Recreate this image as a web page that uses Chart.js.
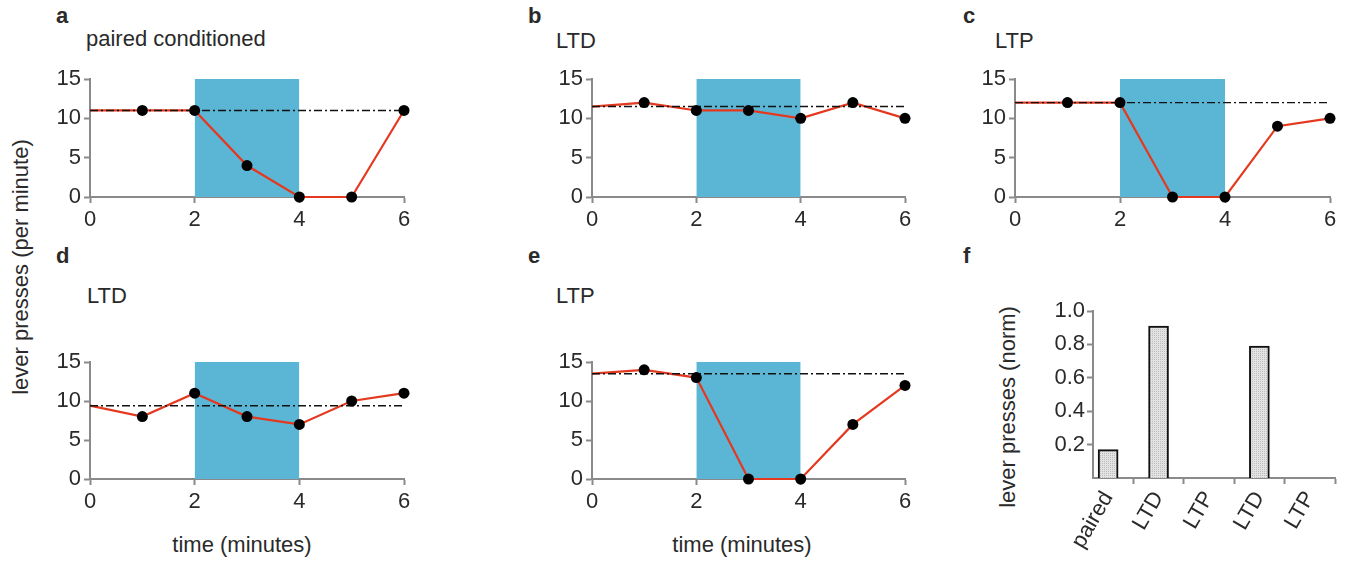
<!DOCTYPE html>
<html>
<head>
<meta charset="utf-8">
<script src="https://cdn.jsdelivr.net/npm/chart.js@4.4.1/dist/chart.umd.min.js"></script>
<style>
    body { margin: 0; background: #fff; width: 1346px; height: 562px; position: relative; overflow: hidden;
           font-family: 'Liberation Sans', Arial, Helvetica, sans-serif; color: #2a2a2a; }
    canvas { position: absolute; }
    .txt { position: absolute; white-space: nowrap; font-size: 22px; line-height: 22px; }
    .letter { font-weight: bold; }
    .rot { transform: translate(-50%, -50%) rotate(-90deg); }
    .ctr { transform: translate(-50%, -50%); }
</style>
</head>
<body>
<div class="txt letter" style="left:56px;top:5px">a</div>
<div class="txt letter" style="left:528px;top:5px">b</div>
<div class="txt letter" style="left:963px;top:5px">c</div>
<div class="txt letter" style="left:56px;top:245px">d</div>
<div class="txt letter" style="left:528px;top:245px">e</div>
<div class="txt letter" style="left:963px;top:245px">f</div>

<div class="txt" style="left:86px;top:28px">paired conditioned</div>
<div class="txt" style="left:556px;top:30px">LTD</div>
<div class="txt" style="left:995px;top:30px">LTP</div>
<div class="txt" style="left:87px;top:285px">LTD</div>
<div class="txt" style="left:556px;top:285px">LTP</div>

<div class="txt rot" style="left:21px;top:267px">lever presses (per minute)</div>
<div class="txt ctr" style="left:242px;top:545px">time (minutes)</div>
<div class="txt ctr" style="left:742px;top:545px">time (minutes)</div>
<div class="txt rot" style="left:1008px;top:407px">lever presses (norm)</div>

<canvas id="panelA"></canvas>
<canvas id="panelB"></canvas>
<canvas id="panelC"></canvas>
<canvas id="panelD"></canvas>
<canvas id="panelE"></canvas>
<canvas id="panelF"></canvas>

<script>
// time axis (minutes) shared by panels a-e
const minutes = [0, 1, 2, 3, 4, 5, 6];
const timeTicks = [0, 2, 4, 6];
const pressTicks = [0, 5, 10, 15];
const stimWindow = [2, 4];
const stimTop = 15;

// lever presses per minute
const pairedPresses = [11, 11, 11, 4, 0, 0, 11];
const ltdPressesB = [11.5, 12, 11, 11, 10, 12, 10];
const ltpPressesC = [12, 12, 12, 0, 0, 9, 10];
const ltdPressesD = [9.4, 8, 11, 8, 7, 10, 11];
const ltpPressesE = [13.5, 14, 13, 0, 0, 7, 12];

// pre-stimulation baselines (dash-dot lines)
const baselineA = 11;
const baselineB = 11.5;
const baselineC = 12;
const baselineD = 9.4;
const baselineE = 13.5;

// panel f
const barCategories = ['paired', 'LTD', 'LTP', 'LTD', 'LTP'];
const barValues = [0.17, 0.91, 0, 0.79, 0];
const normTicks = [0.2, 0.4, 0.6, 0.8, 1.0];

const axisGray = '#8a8a8a';
const tickFont = { family: "'Liberation Sans', Arial, sans-serif", size: 22 };

function placeCanvas(canvas, left, top, width, height) {
    canvas.width = width;
    canvas.height = height;
    canvas.style.left = left + 'px';
    canvas.style.top = top + 'px';
    canvas.style.width = width + 'px';
    canvas.style.height = height + 'px';
}

function linePanel(id, values, baseline, area) {
    const canvas = document.getElementById(id);
    const padL = 50, padT = 18, padR = 16, padB = 40;
    placeCanvas(canvas, area.left - padL, area.top - padT,
        area.right - area.left + padL + padR, area.bottom - area.top + padT + padB);

    new Chart(canvas, {
        type: 'line',
        data: {
            datasets: [
                {
                    // stimulation window
                    data: [{ x: stimWindow[0], y: stimTop }, { x: stimWindow[1], y: stimTop }],
                    fill: 'origin',
                    backgroundColor: '#5bb6d6',
                    borderWidth: 0,
                    pointRadius: 0,
                    order: 5,
                },
                {
                    data: minutes.map((m, i) => ({ x: m, y: values[i] })),
                    borderColor: '#e4381f',
                    borderWidth: 2.2,
                    pointRadius: 0,
                    clip: false,
                    order: 3,
                },
                {
                    data: [{ x: minutes[0], y: baseline }, { x: minutes[minutes.length - 1], y: baseline }],
                    borderColor: '#111',
                    borderWidth: 1.4,
                    borderDash: [8, 3, 2, 3],
                    pointRadius: 0,
                    clip: false,
                    order: 2,
                },
                {
                    data: minutes.slice(1).map((m, i) => ({ x: m, y: values[i + 1] })),
                    showLine: false,
                    pointRadius: 5.5,
                    pointBackgroundColor: '#000',
                    pointBorderColor: '#000',
                    pointBorderWidth: 0,
                    clip: false,
                    order: 1,
                },
            ],
        },
        options: {
            responsive: false,
            animation: false,
            devicePixelRatio: 1,
            layout: { padding: { left: 0, top: padT, right: padR, bottom: 0 } },
            plugins: { legend: { display: false }, tooltip: { enabled: false } },
            scales: {
                x: {
                    type: 'linear',
                    min: 0,
                    max: 6,
                    afterFit: (scale) => { scale.height = padB; },
                    afterBuildTicks: (scale) => { scale.ticks = timeTicks.map((v) => ({ value: v })); },
                    grid: { drawOnChartArea: false, drawTicks: true, tickLength: 6, tickColor: axisGray, tickWidth: 2 },
                    border: { color: axisGray, width: 2 },
                    ticks: { color: '#2a2a2a', font: tickFont, padding: 4, maxRotation: 0 },
                },
                y: {
                    min: 0,
                    max: 15,
                    afterFit: (scale) => { scale.width = padL; },
                    afterBuildTicks: (scale) => { scale.ticks = pressTicks.map((v) => ({ value: v })); },
                    grid: { drawOnChartArea: false, drawTicks: true, tickLength: 6, tickColor: axisGray, tickWidth: 2 },
                    border: { color: axisGray, width: 2 },
                    ticks: { color: '#2a2a2a', font: tickFont, padding: 3 },
                },
            },
        },
    });
}

function barPanel(id, area) {
    const canvas = document.getElementById(id);
    const padL = 55, padT = 18, padR = 11, padB = 562 - area.bottom;
    placeCanvas(canvas, area.left - padL, area.top - padT,
        area.right - area.left + padL + padR, area.bottom - area.top + padT + padB);

    // stippled grey fill
    const tile = document.createElement('canvas');
    tile.width = 2;
    tile.height = 2;
    const tctx = tile.getContext('2d');
    tctx.fillStyle = '#e3e3e3';
    tctx.fillRect(0, 0, 2, 2);
    tctx.fillStyle = '#bcbcbc';
    tctx.fillRect(0, 0, 1, 1);
    const stipple = canvas.getContext('2d').createPattern(tile, 'repeat');

    new Chart(canvas, {
        type: 'bar',
        data: {
            datasets: [
                {
                    data: barCategories.map((c, i) => ({ x: i, y: barValues[i] })),
                    backgroundColor: stipple,
                    borderColor: '#111',
                    borderWidth: 2,
                    barThickness: 20,
                },
            ],
        },
        options: {
            responsive: false,
            animation: false,
            devicePixelRatio: 1,
            layout: { padding: { left: 0, top: padT, right: padR, bottom: 0 } },
            plugins: { legend: { display: false }, tooltip: { enabled: false } },
            scales: {
                x: {
                    type: 'linear',
                    min: -0.3,
                    max: 4.5,
                    offset: false,
                    afterFit: (scale) => { scale.height = padB; },
                    afterBuildTicks: (scale) => { scale.ticks = barCategories.map((_, i) => ({ value: i })); },
                    grid: { drawOnChartArea: false, drawTicks: true, tickLength: 6, tickColor: axisGray, tickWidth: 2 },
                    border: { color: axisGray, width: 2 },
                    ticks: {
                        color: '#2a2a2a',
                        font: tickFont,
                        padding: 3,
                        autoSkip: false,
                        minRotation: 60,
                        maxRotation: 60,
                        callback: (v) => barCategories[v] ?? '',
                    },
                },
                y: {
                    min: 0,
                    max: 1.0,
                    afterFit: (scale) => { scale.width = padL; },
                    afterBuildTicks: (scale) => { scale.ticks = normTicks.map((v) => ({ value: v })); },
                    grid: { drawOnChartArea: false, drawTicks: true, tickLength: 6, tickColor: axisGray, tickWidth: 2 },
                    border: { color: axisGray, width: 2 },
                    ticks: { color: '#2a2a2a', font: tickFont, padding: 2, callback: (v) => v.toFixed(1) },
                },
            },
        },
    });
}

linePanel('panelA', pairedPresses, baselineA, { left: 90, right: 404, top: 79, bottom: 197 });
linePanel('panelB', ltdPressesB, baselineB, { left: 592, right: 905, top: 79, bottom: 197 });
linePanel('panelC', ltpPressesC, baselineC, { left: 1015, right: 1330, top: 79, bottom: 197 });
linePanel('panelD', ltdPressesD, baselineD, { left: 90, right: 404, top: 362, bottom: 479 });
linePanel('panelE', ltpPressesE, baselineE, { left: 592, right: 905, top: 362, bottom: 479 });
barPanel('panelF', { left: 1093, right: 1335, top: 311, bottom: 478 });
</script>
</body>
</html>
